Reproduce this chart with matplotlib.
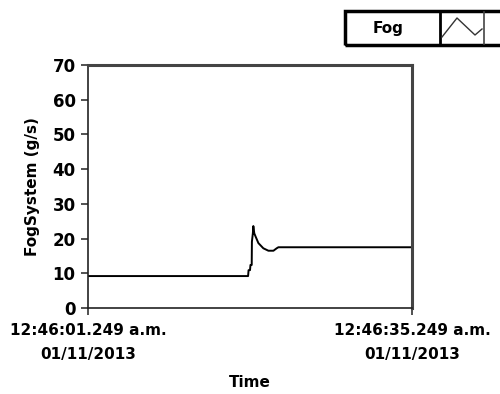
import matplotlib
matplotlib.use("Agg")
import matplotlib.pyplot as plt
from matplotlib.patches import Rectangle
from matplotlib.lines import Line2D

# seconds since 12:46:01.249 a.m.
time_s = [0, 16.8, 16.85, 17.0, 17.05, 17.18, 17.2, 17.3, 17.35, 17.45, 17.6, 17.88,
          18.4, 18.93, 19.46, 19.8, 19.98, 34]
fog_gs = [9.2, 9.2, 10.9, 10.9, 12.4, 12.4, 19.1, 21.5, 23.6, 21.5, 20.5, 18.7,
          17.2, 16.5, 16.5, 17.2, 17.5, 17.5]

x_ticks = [0, 34]
x_ticklabels = ["12:46:01.249 a.m.\n01/11/2013", "12:46:35.249 a.m.\n01/11/2013"]
y_ticks = [0, 10, 20, 30, 40, 50, 60, 70]
legend_name = "Fog"

W, H = 500, 394
fig = plt.figure(figsize=(W / 100, H / 100), dpi=100)
ax = fig.add_axes([88 / W, 1 - 308 / H, 324 / W, 243 / H])

ax.plot(time_s, fog_gs, color="black", lw=1.4)
ax.set_xlim(0, 34)
ax.set_ylim(0, 70)
ax.set_xticks(x_ticks)
ax.set_xticklabels(x_ticklabels, fontsize=11, fontweight="bold", linespacing=1.75)
ax.set_yticks(y_ticks)
ax.set_yticklabels([str(v) for v in y_ticks], fontsize=12, fontweight="bold")
ax.tick_params(axis="both", direction="out", length=5, width=1.2, color="#333333")
ax.tick_params(axis="y", pad=4)
ax.tick_params(axis="x", pad=6)
for s in ["left", "bottom"]:
    ax.spines[s].set_color("#222222")
    ax.spines[s].set_linewidth(1.2)
for s in ["right", "top"]:
    ax.spines[s].set_color("#444444")
    ax.spines[s].set_linewidth(2.2)

ax.set_ylabel("FogSystem (g/s)", fontsize=11, fontweight="bold", labelpad=9)
ax.set_xlabel("Time", fontsize=11, fontweight="bold", labelpad=9)


def px(x, y):
    return x / W, 1 - y / H


# legend box (cut at right edge like the reference)
x0, y0 = px(345, 45)
fig.patches.append(Rectangle((x0, y0), (W + 10 - 345) / W, 34 / H, transform=fig.transFigure,
                             fill=False, edgecolor="black", lw=2.5, clip_on=False))
fig.lines.append(Line2D([440 / W, 440 / W], [1 - 12 / H, 1 - 44 / H],
                        transform=fig.transFigure, color="black", lw=2))
fig.lines.append(Line2D([484 / W, 484 / W], [1 - 12 / H, 1 - 44 / H],
                        transform=fig.transFigure, color="#444444", lw=1.2))
zx = [442, 457, 475, 482]
zy = [37, 18, 35, 29]
fig.lines.append(Line2D([v / W for v in zx], [1 - v / H for v in zy],
                        transform=fig.transFigure, color="#333333", lw=1))
fig.text(*px(388, 28), legend_name, ha="center", va="center", fontsize=11, fontweight="bold")

fig.savefig("out.png", dpi=100)
